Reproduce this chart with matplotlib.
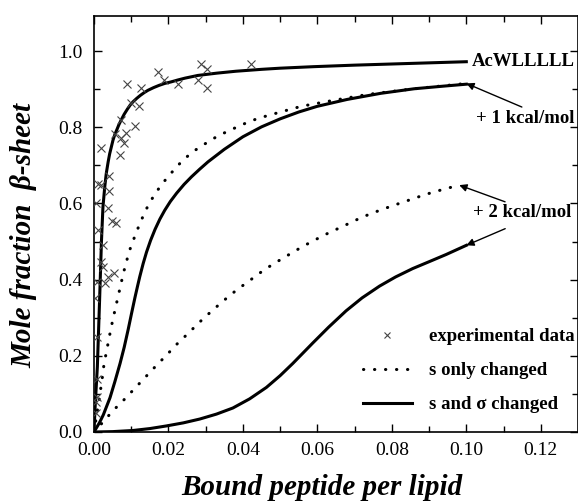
import numpy as np
import matplotlib
matplotlib.use("Agg")
import matplotlib.pyplot as plt
from matplotlib.lines import Line2D

# ---- data -------------------------------------------------------------
# AcWLLLLL fit (solid)
acw_x = [0, 0.0003, 0.0009, 0.0015, 0.0020, 0.0024, 0.0029, 0.0033, 0.0038,
         0.0042, 0.0047, 0.0051, 0.0056, 0.0062, 0.0067, 0.0073, 0.0081,
         0.0090, 0.0097, 0.0105, 0.0115, 0.0125, 0.0135, 0.0145, 0.0160,
         0.0175, 0.0190, 0.0207, 0.0225, 0.0245, 0.0279, 0.0330, 0.0381,
         0.0450, 0.0500, 0.0590, 0.0700, 0.0800, 0.0900, 0.1000]
acw_y = [0, 0.066, 0.171, 0.346, 0.500, 0.590, 0.645, 0.679, 0.709, 0.730,
         0.750, 0.766, 0.781, 0.795, 0.807, 0.819, 0.834, 0.848, 0.858, 0.867,
         0.876, 0.884, 0.891, 0.897, 0.904, 0.910, 0.915, 0.919, 0.924, 0.929,
         0.936, 0.942, 0.947, 0.952, 0.955, 0.959, 0.963, 0.966, 0.969, 0.972]

# +1 kcal/mol, s only changed (dotted)
p1_s_x = [0, 0.0008, 0.0016, 0.0024, 0.0027, 0.0033, 0.0039, 0.0045, 0.0051,
          0.0058, 0.0065, 0.0072, 0.0079, 0.0087, 0.0096, 0.0107, 0.0119,
          0.0132, 0.0146, 0.0165, 0.0186, 0.0212, 0.0239, 0.0269, 0.0299,
          0.0329, 0.0356, 0.0385, 0.0415, 0.0443, 0.0501, 0.0557, 0.0617,
          0.0675, 0.0734, 0.0792, 0.0850, 0.0900, 0.0950, 0.1000]
p1_s_y = [0, 0.050, 0.100, 0.154, 0.180, 0.208, 0.239, 0.269, 0.297, 0.327,
          0.357, 0.387, 0.417, 0.447, 0.478, 0.507, 0.537, 0.567, 0.596, 0.627,
          0.655, 0.685, 0.714, 0.738, 0.757, 0.775, 0.788, 0.801, 0.814, 0.824,
          0.840, 0.855, 0.866, 0.876, 0.886, 0.893, 0.900, 0.905, 0.910, 0.915]

# +1 kcal/mol, s and sigma changed (solid)
p1_ss_x = [0, 0.0015, 0.0025, 0.0043, 0.0056, 0.0070, 0.0081, 0.0092, 0.0101,
           0.0110, 0.0117, 0.0123, 0.0132, 0.0141, 0.0152, 0.0164, 0.0177,
           0.0190, 0.0205, 0.0222, 0.0242, 0.0262, 0.0284, 0.0306, 0.0350,
           0.0400, 0.0450, 0.0500, 0.0550, 0.0600, 0.0680, 0.0770, 0.0860,
           0.0940, 0.1000]
p1_ss_y = [0, 0.025, 0.045, 0.090, 0.132, 0.180, 0.222, 0.270, 0.312, 0.353,
           0.383, 0.408, 0.442, 0.472, 0.503, 0.532, 0.559, 0.582, 0.605, 0.627,
           0.650, 0.670, 0.690, 0.709, 0.742, 0.775, 0.801, 0.822, 0.840, 0.855,
           0.873, 0.889, 0.901, 0.908, 0.913]

# +2 kcal/mol, s only changed (dotted)
p2_s_x = [0, 0.0025, 0.0051, 0.0080, 0.0110, 0.0137, 0.0165, 0.0195, 0.0223,
          0.0253, 0.0282, 0.0311, 0.0340, 0.0369, 0.0399, 0.0427, 0.0456,
          0.0485, 0.0514, 0.0543, 0.0572, 0.0601, 0.0631, 0.0660, 0.0688,
          0.0718, 0.0746, 0.0776, 0.0805, 0.0835, 0.0862, 0.0892, 0.0920,
          0.0950, 0.0981]
p2_s_y = [0, 0.027, 0.056, 0.084, 0.115, 0.143, 0.172, 0.202, 0.231, 0.259,
          0.287, 0.313, 0.338, 0.362, 0.384, 0.404, 0.425, 0.443, 0.460, 0.477,
          0.493, 0.508, 0.523, 0.536, 0.549, 0.563, 0.574, 0.585, 0.595, 0.605,
          0.614, 0.624, 0.632, 0.640, 0.648]

# +2 kcal/mol, s and sigma changed (solid)
p2_ss_x = [0, 0.0050, 0.0105, 0.0150, 0.0195, 0.0240, 0.0284, 0.0329, 0.0373,
           0.0418, 0.0463, 0.0500, 0.0534, 0.0563, 0.0588, 0.0630, 0.0677,
           0.0720, 0.0767, 0.0810, 0.0856, 0.0900, 0.0946, 0.1000]
p2_ss_y = [0, 0.001, 0.004, 0.009, 0.016, 0.024, 0.034, 0.047, 0.063, 0.087,
           0.117, 0.148, 0.180, 0.209, 0.234, 0.275, 0.318, 0.352, 0.383, 0.407,
           0.429, 0.447, 0.466, 0.490]

# experimental data
exp_x = [0.0018, 0.0089, 0.0127, 0.0173, 0.0188, 0.0225, 0.0288, 0.0304,
         0.0279, 0.0304, 0.0100, 0.0122, 0.0072, 0.0109, 0.0056, 0.0087,
         0.0073, 0.0080, 0.0069, 0.0039, 0.0011, 0.0020, 0.0039, 0.0006,
         0.0038, 0.0423, 0.0048, 0.0060, 0.0011, 0.0024, 0.0020, 0.0024,
         0.0054, 0.0038, 0.0030, 0.0002, 0.0009, 0.0009, 0.0009, 0.0006,
         0.0007, 0.0005]
exp_y = [0.745, 0.913, 0.902, 0.944, 0.924, 0.913, 0.967, 0.952, 0.924, 0.902,
         0.864, 0.856, 0.819, 0.803, 0.782, 0.786, 0.771, 0.758, 0.727, 0.672,
         0.651, 0.648, 0.633, 0.600, 0.587, 0.965, 0.555, 0.548, 0.530, 0.491,
         0.447, 0.434, 0.418, 0.406, 0.392, 0.351, 0.250, 0.138, 0.093, 0.080,
         0.395, 0.049]

x_ticks = [0.00, 0.02, 0.04, 0.06, 0.08, 0.10, 0.12]
y_ticks = [0.0, 0.2, 0.4, 0.6, 0.8, 1.0]

# ---- style ------------------------------------------------------------
serif = ["Liberation Serif", "DejaVu Serif"]
plt.rcParams["font.family"] = serif

fig = plt.figure(figsize=(5.78, 5.01), dpi=100)
ax = fig.add_axes([94 / 578, 69 / 501, 484 / 578, 416 / 501])

LW = 2.2
dotted = (0, (0.1, 3.5))
exp_color = "#444444"

ax.plot(acw_x, acw_y, color="black", lw=LW, solid_joinstyle="round")
ax.plot(p1_s_x, p1_s_y, color="black", lw=LW, ls=dotted,
        dash_capstyle="round")
ax.plot(p1_ss_x, p1_ss_y, color="black", lw=LW, solid_joinstyle="round")
ax.plot(p2_s_x, p2_s_y, color="black", lw=LW, ls=dotted,
        dash_capstyle="round")
ax.plot(p2_ss_x, p2_ss_y, color="black", lw=LW, solid_joinstyle="round")
ax.plot(exp_x, exp_y, ls="none", marker="x", ms=6, mew=0.8,
        color=exp_color, zorder=3)

ax.set_xlim(0, 0.13)
ax.set_ylim(0, 1.092)

ax.set_xticks(x_ticks)
ax.set_xticklabels([f"{v:.2f}" for v in x_ticks])
ax.set_xticks(np.arange(0.01, 0.13, 0.02), minor=True)
ax.set_yticks(y_ticks)
ax.set_yticklabels([f"{v:.1f}" for v in y_ticks])
ax.set_yticks(np.arange(0.1, 1.05, 0.2), minor=True)

ax.tick_params(which="both", direction="in", top=True, right=True,
               width=1.0, labelsize=14, colors="black")
ax.tick_params(which="major", length=6)
ax.tick_params(which="minor", length=4)
ax.tick_params(axis="x", pad=7)
ax.tick_params(axis="y", pad=8)
for s in ax.spines.values():
    s.set_linewidth(1.2)

# ---- curve labels -----------------------------------------------------
lab_kw = dict(fontsize=13.5, fontweight="bold", family=serif)
ax.annotate("AcWLLLLL", xy=(acw_x[-1], acw_y[-1]), xytext=(4, 0),
            textcoords="offset points", ha="left", va="center", **lab_kw)

arrow = dict(arrowstyle="-|>", color="black", lw=1.0, mutation_scale=11,
             shrinkA=0, shrinkB=0)
ax.annotate("", xy=(p1_s_x[-1], p1_s_y[-1]), xytext=(40, -17),
            textcoords="offset points", arrowprops=arrow)
ax.annotate("+ 1 kcal/mol", xy=(p1_s_x[-1], p1_s_y[-1]), xytext=(7, -25),
            textcoords="offset points", ha="left", va="center", **lab_kw)

ax.annotate("", xy=(p2_s_x[-1], p2_s_y[-1]), xytext=(33, -12),
            textcoords="offset points", arrowprops=arrow)
ax.annotate("", xy=(p2_ss_x[-1], p2_ss_y[-1]), xytext=(28, 12),
            textcoords="offset points", arrowprops=arrow)
ax.annotate("+ 2 kcal/mol", xy=(p2_s_x[-1], p2_s_y[-1]), xytext=(10, -20),
            textcoords="offset points", ha="left", va="center", **lab_kw)

# ---- legend -----------------------------------------------------------
handles = [
    Line2D([], [], ls="none", marker="x", ms=5, mew=0.8, color=exp_color),
    Line2D([], [], color="black", lw=LW, ls=dotted, dash_capstyle="round"),
    Line2D([], [], color="black", lw=LW),
]
labels = ["experimental data", "s only changed", "s and \u03c3 changed"]
ax.legend(handles, labels, loc="lower left",
          bbox_to_anchor=((363 - 94) / 484, 0.045), frameon=False,
          borderpad=0, borderaxespad=0, handlelength=2.6,
          handletextpad=0.9, labelspacing=0.9,
          prop=dict(family=serif, weight="bold", size=13.5))

# ---- axis titles ------------------------------------------------------
title_kw = dict(fontsize=21, fontweight="bold", fontstyle="italic",
                family=serif)
fig.text(322 / 578, (501 - 495) / 501, "Bound peptide per lipid",
         ha="center", va="baseline", **title_kw)
fig.text(24 / 578, (501 - 235) / 501, "Mole fraction  \u03b2-sheet",
         rotation=90, ha="center", va="center", **title_kw)

fig.savefig("out.png", dpi=100)
